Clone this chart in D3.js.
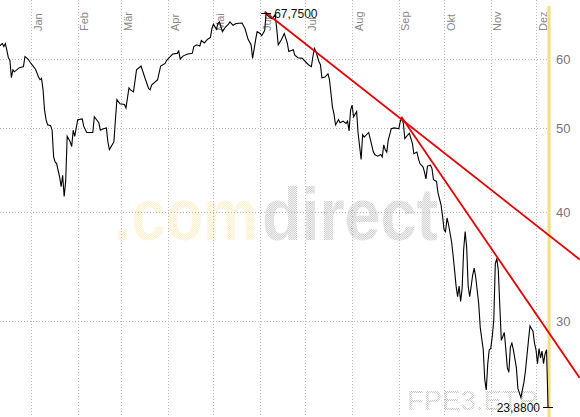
<!DOCTYPE html>
<html>
<head>
<meta charset="utf-8">
<script src="https://cdn.jsdelivr.net/npm/d3@7"></script>
<style>
  body { margin: 0; background: #fff; }
  svg { display: block; font-family: Arial, "Liberation Sans", sans-serif; }
</style>
</head>
<body>
<svg id="chart"></svg>
<script>
// month names on top, price gridlines on the right
const months = ["Jan", "Feb", "Mär", "Apr", "Mai", "Jun", "Jul", "Aug", "Sep", "Okt", "Nov", "Dez"];
const yTicks = [30, 40, 50, 60];

// closing prices: [days since 1 Jan 2008, price]
const closes = [
  [-21,62.1],[-19,62.5],[-18,62.0],[-17,62.5],[-16,61.4],[-15,60.2],[-14,59.8],[-13,57.1],[-12,58.3],[-11,58.0],
  [-8,58.6],[-5,58.8],[-4,60.4],[-2,60.0],[0,59.3],[3,58.4],[5,57.2],[6,56.8],[7,57.0],[8,55.3],
  [9,52.4],[10,51.1],[11,50.4],[13,50.3],[14,49.7],[15,46.3],[16,45.7],[17,45.5],[19,43.9],[20,42.8],
  [21,44.1],[22,41.7],[23,43.4],[24,48.9],[26,48.2],[27,47.6],[28,49.7],[29,48.9],[31,51.1],[34,51.2],
  [35,50.2],[37,49.4],[41,49.4],[42,51.5],[45,50.7],[46,49.7],[48,49.9],[50,50.0],[51,48.2],[52,47.2],
  [55,48.2],[56,51.1],[57,53.9],[59,53.3],[62,53.2],[63,52.7],[65,55.6],[66,55.3],[68,55.0],[70,58.3],
  [73,58.9],[76,56.8],[78,55.5],[79,55.3],[80,56.0],[84,56.8],[86,58.9],[89,59.3],[90,59.8],[92,60.3],
  [94,60.8],[97,60.9],[98,61.3],[99,60.0],[101,60.5],[104,60.8],[107,60.9],[108,62.0],[110,62.3],[112,62.1],
  [113,63.0],[115,62.6],[117,63.2],[119,63.5],[120,65.0],[121,65.8],[123,64.9],[124,65.9],[125,66.2],[127,64.5],
  [129,65.3],[131,65.8],[132,66.2],[134,65.6],[136,65.9],[140,66.0],[142,65.0],[144,63.2],[146,62.3],[147,60.1],
  [149,63.1],[150,64.5],[152,64.2],[153,63.8],[155,64.7],[156,67.75],[157,67.3],[160,66.7],[162,67.5],[163,65.0],
  [164,62.3],[166,63.1],[168,64.2],[170,62.6],[171,61.2],[174,61.5],[175,60.6],[177,60.2],[180,60.1],[182,59.6],
  [184,59.1],[186,58.8],[187,60.4],[188,61.7],[189,61.2],[191,59.6],[192,59.1],[193,57.1],[195,57.2],[197,57.7],
  [198,56.8],[200,52.8],[201,51.9],[202,50.4],[204,51.1],[205,50.7],[207,50.9],[209,50.6],[210,50.9],[211,49.6],
  [212,52.4],[213,53.1],[214,51.5],[216,52.2],[217,49.3],[219,46.0],[220,49.1],[221,48.8],[224,49.4],[225,48.6],
  [227,47.0],[228,46.6],[230,46.4],[232,46.6],[233,46.3],[234,47.8],[235,47.2],[236,46.9],[237,48.4],[239,49.9],
  [241,50.0],[244,49.9],[245,50.9],[246,51.4],[247,50.6],[248,48.6],[250,49.1],[251,49.3],[253,48.0],[254,46.7],
  [256,46.9],[257,46.1],[258,45.5],[260,45.1],[261,44.5],[262,43.7],[263,45.2],[265,45.3],[266,44.9],[267,43.6],
  [269,43.4],[270,42.1],[272,40.8],[273,39.6],[274,38.2],[275,38.0],[276,39.4],[277,38.7],[279,37.0],[280,35.7],
  [281,34.3],[282,32.9],[283,32.0],[284,32.9],[285,31.6],[286,32.7],[287,36.2],[288,38.0],[289,36.5],[290,32.9],
  [291,32.0],[292,32.9],[293,33.9],[294,34.5],[295,33.7],[297,31.4],[298,29.5],[300,27.8],[301,25.7],[302,25.0],
  [303,26.8],[304,27.8],[305,27.9],[306,28.8],[307,30.1],[308,34.9],[309,35.4],[310,34.3],[311,31.2],[312,28.5],
  [313,28.8],[314,29.1],[315,27.8],[316,26.5],[317,26.2],[318,28.0],[319,28.3],[320,27.8],[322,26.5],[323,25.1],
  [325,24.5],[326,25.0],[327,25.5],[328,26.3],[330,28.5],[331,29.6],[333,29.2],[334,28.3],[335,27.8],[336,26.8],
  [337,27.9],[338,27.2],[339,27.7],[340,26.8],[341,27.5],[342,27.8],[343,23.88]
];

// red trend lines: [[day, price], [day, price]]
const trendLines = [
  [[155, 68.0], [364, 35.3]],
  [[246, 51.4], [364, 25.8]]
];

const watermark = [".com", "direct"];
const symbol = "FPE3.ETR";

const width = 580, height = 417;
const year0 = new Date(2008, 0, 1);
const toDate = d => d3.timeDay.offset(year0, d);

const svg = d3.select("#chart").attr("width", width).attr("height", height);

const x = d3.scaleTime()
  .domain([new Date(2008, 0, 1), new Date(2008, 11, 1)])
  .range([31, 536]);

const y = d3.scaleLog()
  .domain([60, 30])
  .range([59, 321]);

// dot patterns for the watermark
const defs = svg.append("defs");
function dots(id, color) {
  const p = defs.append("pattern").attr("id", id)
    .attr("width", 2).attr("height", 2).attr("patternUnits", "userSpaceOnUse");
  p.append("rect").attr("x", 0).attr("y", 0).attr("width", 1).attr("height", 1).attr("fill", color);
  p.append("rect").attr("x", 1).attr("y", 1).attr("width", 1).attr("height", 1).attr("fill", color);
}
dots("dotGrey", "#c6c6c6");
dots("dotYellow", "#fcecc0");

const lastPt = closes[closes.length - 1];
const xLast = x(toDate(lastPt[0]));

// watermark, two parts in two colours, squeezed horizontally to fit
const wmParts = [
  { t: watermark[0], x: 114, len: 144, fill: "url(#dotYellow)" },
  { t: watermark[1], x: 262, len: 176, fill: "url(#dotGrey)" }
];
svg.append("g").selectAll("text")
  .data(wmParts)
  .join("text")
  .attr("font-size", 74)
  .attr("font-weight", "bold")
  .attr("fill", d => d.fill)
  .text(d => d.t)
  .attr("transform", function (d) {
    const k = d.len / this.getComputedTextLength();
    return `translate(${d.x},240) scale(${k},1)`;
  });

svg.append("text")
  .attr("x", 407).attr("y", 410)
  .attr("font-size", 27.5)
  .attr("fill", "url(#dotGrey)")
  .text(symbol);

// grid
const monthDates = d3.timeMonth.range(new Date(2008, 0, 1), new Date(2009, 0, 1));
svg.append("g").selectAll("line")
  .data(monthDates)
  .join("line")
  .attr("x1", d => Math.round(x(d)) + 0.5).attr("x2", d => Math.round(x(d)) + 0.5)
  .attr("y1", 0).attr("y2", height)
  .attr("stroke", "#b8b8c4").attr("stroke-dasharray", "1,2");

svg.append("g").selectAll("line")
  .data(yTicks)
  .join("line")
  .attr("x1", 0).attr("x2", xLast)
  .attr("y1", d => Math.round(y(d)) + 0.5).attr("y2", d => Math.round(y(d)) + 0.5)
  .attr("stroke", "#b8b8c4").attr("stroke-dasharray", "1,2");

// month labels
svg.append("g").selectAll("text")
  .data(monthDates)
  .join("text")
  .attr("transform", d => `translate(${x(d) + 10.5},31) rotate(-90)`)
  .attr("font-size", 11)
  .attr("fill", "#888")
  .text((d, i) => months[i]);

// price labels
svg.append("g").selectAll("text")
  .data(yTicks)
  .join("text")
  .attr("x", 556).attr("y", d => y(d) + 5)
  .attr("font-size", 13)
  .attr("fill", "#777")
  .text(d => d);

// current day marker
svg.append("line")
  .attr("x1", xLast + 1).attr("x2", xLast + 1)
  .attr("y1", 6).attr("y2", height)
  .attr("stroke", "#f6dc80").attr("stroke-width", 3);

// price line
const line = d3.line()
  .x(d => x(toDate(d[0])))
  .y(d => y(d[1]));

svg.append("path")
  .datum(closes)
  .attr("fill", "none")
  .attr("stroke", "#000")
  .attr("stroke-width", 1.1)
  .attr("d", line);

// trend lines
svg.append("g").selectAll("path")
  .data(trendLines)
  .join("path")
  .attr("fill", "none")
  .attr("stroke", "#e80000")
  .attr("stroke-width", 1.8)
  .attr("d", line);

// high / last markers
const fmt = v => d3.format(".4f")(v).replace(".", ",");
const hi = d3.greatest(closes, d => d[1]);
const marks = [
  { p: hi, anchor: "start", dx: 8 },
  { p: lastPt, anchor: "end", dx: -8 }
];
const mg = svg.append("g");
marks.forEach(m => {
  const cx = x(toDate(m.p[0])), cy = Math.round(y(m.p[1])) + 0.5;
  mg.append("line")
    .attr("x1", cx - 5).attr("x2", cx + 5)
    .attr("y1", cy).attr("y2", cy)
    .attr("stroke", "#000");
  mg.append("text")
    .attr("x", cx + m.dx).attr("y", cy + 4)
    .attr("text-anchor", m.anchor)
    .attr("font-size", 12)
    .attr("fill", "#111")
    .text(fmt(m.p[1]));
});
</script>
</body>
</html>
